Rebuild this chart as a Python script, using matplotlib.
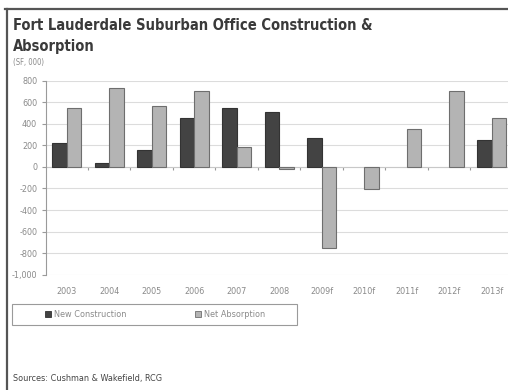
import numpy as np
import matplotlib
matplotlib.use('Agg')
import matplotlib.pyplot as plt
from matplotlib.patches import Patch, Rectangle
from matplotlib.lines import Line2D

plt.rcParams['font.family'] = ['DejaVu Sans']
plt.rcParams['font.stretch'] = 'condensed'

years = ['2003', '2004', '2005', '2006', '2007', '2008', '2009f', '2010f', '2011f', '2012f', '2013f']
construction = [225, 40, 155, 457, 544, 507, 269, 0, 0, 0, 253]
absorption = [550, 736, 569, 708, 183, -21, -754, -201, 350, 708, 452]
yticks = [800, 600, 400, 200, 0, -200, -400, -600, -800, -1000]

DARK = '#434343'
LIGHT = '#b4b4b4'

fig = plt.figure(figsize=(5.08, 3.90), dpi=100)
ax = fig.add_axes([0.0896, 0.2956, 0.920, 0.4977])

x = np.arange(len(years))
w = 0.345
ax.bar(x - w / 2, construction, w, color=DARK, edgecolor='#333333',
       linewidth=[0.8 if v else 0 for v in construction], zorder=3)
ax.bar(x + w / 2, absorption, w, color=LIGHT, edgecolor='#6e6e6e',
       linewidth=[0.8 if v else 0 for v in absorption], zorder=3)

ax.set_xlim(-0.5, len(years) - 0.5)
ax.set_ylim(-1000, 800)
ax.set_yticks(yticks)
ax.set_yticklabels([f'{v:,}' for v in yticks], fontsize=6.5, color='#8a8a8a')
ax.yaxis.grid(True, color='#dcdcdc', linewidth=0.8, zorder=0)
ax.set_xticks(x)
ax.set_xticklabels(years, fontsize=6.5, color='#8a8a8a')
ax.tick_params(axis='x', length=0, pad=9)
ax.tick_params(axis='y', length=3, color='#9a9a9a', width=0.8, pad=3)

# category boundary ticks on the zero line
bounds = np.arange(0.5, len(years) - 0.5, 1.0)
ax.vlines(bounds, -30, 0, color='#9a9a9a', linewidth=0.8, zorder=2)
ax.axhline(0, color='#c8c8c8', linewidth=0.8, zorder=2)

for s in ['top', 'right', 'bottom']:
    ax.spines[s].set_visible(False)
ax.spines['left'].set_color('#9a9a9a')
ax.spines['left'].set_linewidth(0.8)

# frame lines of the exhibit
fig.add_artist(Line2D([7 / 508, 7 / 508], [0, 1 - 8.5 / 390], color='#555555', linewidth=1.6))
fig.add_artist(Line2D([5 / 508, 1], [1 - 8.5 / 390, 1 - 8.5 / 390], color='#555555', linewidth=1.6))

fig.text(13 / 508, 1 - 25 / 390, 'Fort Lauderdale Suburban Office Construction &',
         fontsize=10.5, fontweight='bold', color='#3a3a3a', va='center', ha='left')
fig.text(13 / 508, 1 - 46 / 390, 'Absorption',
         fontsize=10.5, fontweight='bold', color='#3a3a3a', va='center', ha='left')
fig.text(13 / 508, 1 - 63 / 390, '(SF, 000)', fontsize=5.5, color='#8a8a8a', va='center', ha='left')

fig.add_artist(Rectangle((12 / 508, 1 - 325 / 390), 285 / 508, 21 / 390, transform=fig.transFigure,
                         fill=False, edgecolor='#9a9a9a', linewidth=0.8))
handles = [Patch(facecolor=DARK, edgecolor='#333333', linewidth=0.6),
           Patch(facecolor=LIGHT, edgecolor='#6e6e6e', linewidth=0.6)]
leg = fig.legend(handles, ['New Construction', 'Net Absorption'], loc='center left',
                 bbox_to_anchor=(40 / 508, 1 - 314.5 / 390), ncol=2, fontsize=6.5, frameon=False,
                 handlelength=0.7, handleheight=0.7, handletextpad=0.3, columnspacing=7.6,
                 borderpad=0, labelcolor='#8a8a8a')

fig.text(13 / 508, 1 - 379 / 390, 'Sources: Cushman & Wakefield, RCG', fontsize=6.5,
         color='#444444', va='center', ha='left')

fig.savefig('out.png', dpi=100)
